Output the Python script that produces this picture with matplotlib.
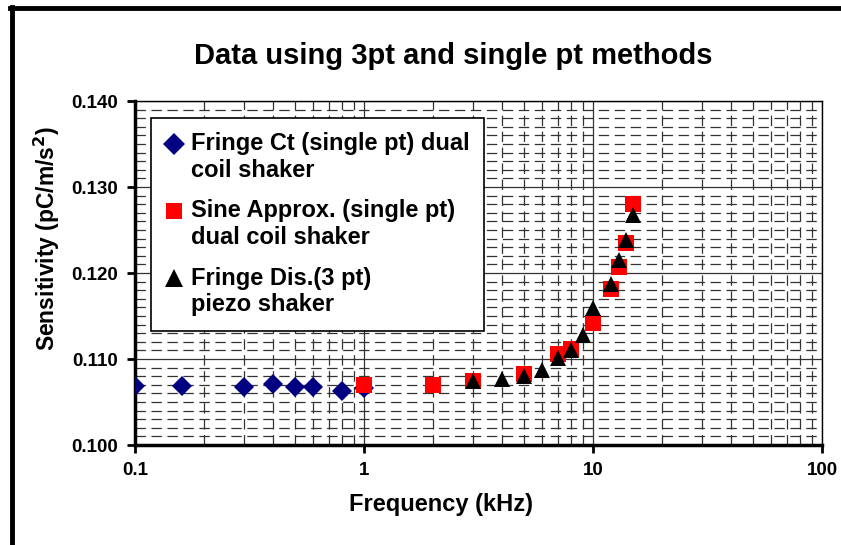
import matplotlib
matplotlib.use("Agg")
import matplotlib.pyplot as plt
from matplotlib.lines import Line2D
from matplotlib.legend_handler import HandlerLine2D
from matplotlib.ticker import FixedLocator, FuncFormatter, NullFormatter, LogLocator

plt.rcParams['font.family'] = ['Liberation Sans', 'DejaVu Sans']
plt.rcParams['font.weight'] = 'bold'
plt.rcParams['lines.scale_dashes'] = False

# Data
fc_freq = [0.1, 0.16, 0.3, 0.4, 0.5, 0.6, 0.8, 1.0]
fc_sens = [0.1069, 0.1069, 0.1067, 0.1071, 0.1067, 0.1067, 0.1063, 0.1066]

sa_freq = [1, 2, 3, 5, 7, 8, 10, 12, 13, 14, 15]
sa_sens = [0.1070, 0.1070, 0.1074, 0.1082, 0.1106, 0.1112, 0.1142, 0.1181, 0.1207, 0.1235, 0.1280]

fd_freq = [3, 4, 5, 6, 7, 8, 9, 10, 12, 13, 14, 15]
fd_sens = [0.1074, 0.1077, 0.1080, 0.1087, 0.1101, 0.1111, 0.1128, 0.1159, 0.1187, 0.1215, 0.1238, 0.1267]

labels = ["Fringe Ct (single pt) dual\ncoil shaker",
          "Sine Approx. (single pt)\ndual coil shaker",
          "Fringe Dis.(3 pt)\npiezo shaker"]
x_ticks = [0.1, 1, 10, 100]
x_tick_labels = ["0.1", "1", "10", "100"]
y_ticks = [0.100, 0.110, 0.120, 0.130, 0.140]


class HandlerFirstLine(HandlerLine2D):
    """Place the legend marker next to the first line of a two-line label."""
    def create_artists(self, legend, orig_handle, xdescent, ydescent, width, height, fontsize, trans):
        shift = 1.2 * fontsize  # moves marker up by half a line
        return super().create_artists(legend, orig_handle, xdescent, ydescent - shift,
                                      width, height, fontsize, trans)


fig = plt.figure(figsize=(8.41, 5.45), dpi=100)
ax = fig.add_axes([135/841, 100/545, 687/841, 344/545])

ax.plot(fc_freq, fc_sens, linestyle='none', marker='D', ms=10, color='#000080',
        markeredgewidth=0, label=labels[0], zorder=3)
ax.plot(sa_freq, sa_sens, linestyle='none', marker='s', ms=11, color='#FF0000',
        markeredgewidth=0, label=labels[1], zorder=4)
ax.plot(fd_freq, fd_sens, linestyle='none', marker='^', ms=12, color='black',
        markeredgewidth=0, label=labels[2], zorder=5)

ax.set_xscale('log')
ax.set_xlim(0.1, 100)
ax.set_ylim(0.100, 0.140)
ax.xaxis.set_major_locator(FixedLocator(x_ticks))
ax.xaxis.set_major_formatter(FuncFormatter(lambda v, p: x_tick_labels[x_ticks.index(v)] if v in x_ticks else ""))
ax.xaxis.set_minor_locator(LogLocator(base=10, subs=range(2, 10)))
ax.xaxis.set_minor_formatter(NullFormatter())
ax.yaxis.set_major_locator(FixedLocator(y_ticks))
ax.yaxis.set_minor_locator(FixedLocator([0.100 + 0.001 * i for i in range(41)]))
ax.yaxis.set_major_formatter(FuncFormatter(lambda v, p: f"{v:.3f}"))

ax.grid(which='major', color='#333333', lw=0.9, ls='-', zorder=0)
ax.grid(which='minor', color='#333333', lw=0.9, ls=(0, (7.5, 4)), zorder=0)
ax.set_axisbelow(True)

ax.tick_params(which='major', direction='out', length=6, width=2, labelsize=13.5, pad=6)
ax.tick_params(which='minor', length=0)
for lab in ax.get_xticklabels() + ax.get_yticklabels():
    lab.set_fontweight('bold')

ax.spines['left'].set_linewidth(2.5)
ax.spines['bottom'].set_linewidth(2.5)
ax.spines['top'].set_linewidth(1)
ax.spines['right'].set_linewidth(1)

ax.set_xlabel("Frequency (kHz)", fontsize=17, fontweight='bold')
ax.xaxis.set_label_coords((441 - 135) / 687, (445 - 505) / 344)
ax.xaxis.label.set_va('center')
ax.set_ylabel("Sensitivity (pC/m/s$^2$)", fontsize=16.5, fontweight='bold')
ax.yaxis.set_label_coords((47 - 135) / 687, (445 - 238) / 344)
ax.yaxis.label.set_va('center')
fig.text(453/841, 1 - 56/545, "Data using 3pt and single pt methods", ha='center', va='center',
         fontsize=21, fontweight='bold')

leg = ax.legend(loc='upper left', bbox_to_anchor=(16/687, 327/344), borderaxespad=0,
                fontsize=17, frameon=True, fancybox=False, handlelength=0.75,
                handletextpad=0.35, labelspacing=0.75, borderpad=0.6, framealpha=1,
                markerscale=1.1, handler_map={Line2D: HandlerFirstLine()})
leg.get_frame().set_edgecolor('black')
leg.get_frame().set_linewidth(1.2)
for t in leg.get_texts():
    t.set_fontweight('bold')

# outer frame
fig.add_artist(Line2D([12/841, 12/841], [0, 1 - 7/545], transform=fig.transFigure, color='black', lw=3.5))
fig.add_artist(Line2D([10/841, 1], [1 - 8/545, 1 - 8/545], transform=fig.transFigure, color='black', lw=3.5))

fig.savefig("out.png", dpi=100)
